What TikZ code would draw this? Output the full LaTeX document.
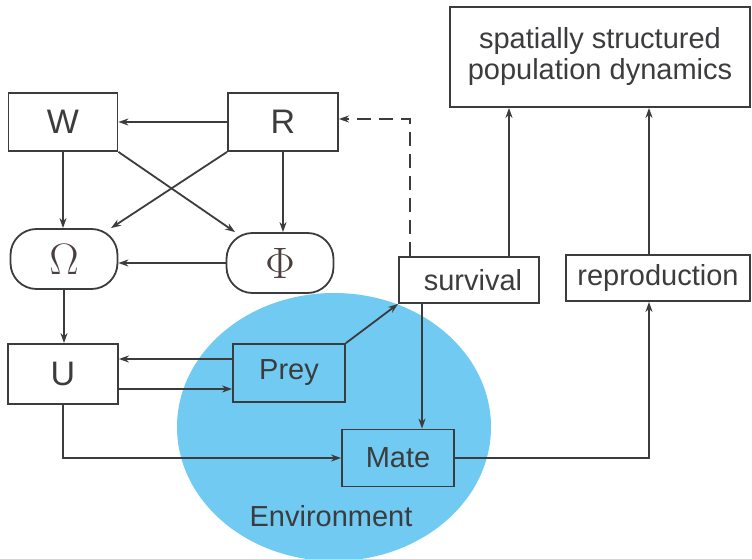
\RequirePackage{fix-cm}
\documentclass[tikz,border=0pt]{standalone}
\usepackage{fontspec}
\setmainfont{Liberation Sans}
\usetikzlibrary{arrows.meta,positioning}
\definecolor{envblue}{RGB}{112,202,241}
\definecolor{linegray}{RGB}{60,60,62}
\definecolor{greekbrown}{RGB}{75,62,62}

\begin{document}
\begin{tikzpicture}[x=1pt,y=-1pt,
  box/.style={draw=linegray, line width=1.8pt, rectangle, inner sep=0pt, text=linegray, font=\fontsize{29}{31}\selectfont},
  big/.style={box, font=\fontsize{34}{36}\selectfont},
  pill/.style={box, rounded corners=26pt, font=\fontsize{44}{46}\selectfont, text=greekbrown},
  arr/.style={-{Stealth[length=10pt,width=7pt]}, line width=1.8pt, draw=linegray}
]
\useasboundingbox (0,0) rectangle (752,559);
\fill[envblue] (334,427) ellipse [x radius=157, y radius=134];

\node[box, minimum width=300, minimum height=100, align=center] (pop) at (600,57) {spatially structured\\population dynamics};
\node[big, minimum width=109, minimum height=58] (w) at (63,122) {W};
\node[big, minimum width=110, minimum height=58] (r) at (283,122) {R};
\node[pill, minimum width=107, minimum height=60] (om) at (64,259) {$\Omega$};
\node[pill, minimum width=107, minimum height=60] (ph) at (280,263) {$\Phi$};
\node[big, minimum width=110, minimum height=60] (u) at (63,374) {U};
\node[box, minimum width=112, minimum height=58] (prey) at (289,373) {Prey};
\node[box, minimum width=112, minimum height=57] (mate) at (398,458) {Mate};
\node[box, minimum width=140, minimum height=46] (surv) at (469,280) {\hspace{8pt}survival};
\node[box, minimum width=184, minimum height=46] (repr) at (658,278) {reproduction};
\node[font=\fontsize{29}{31}\selectfont, text=linegray] (env) at (331,516) {Environment};

\draw[arr] (r) -- (w);
\draw[arr] (w) -- (w |- om.north);
\draw[arr] (w.south east) -- (ph);
\draw[arr] (r.south west) -- (om);
\draw[arr] (r) -- (r |- ph.north);
\draw[arr] (ph.west) -- (ph.west -| om.east);
\draw[arr] (om) -- (om |- u.north);
\draw[arr] ([yshift=14pt]prey.west) -- ([yshift=14pt]prey.west -| u.east);
\draw[arr] ([yshift=-15pt]u.east) -- ([yshift=-15pt]u.east -| prey.west);
\draw[arr] (u.south) |- (mate.west);
\draw[arr] (prey.north east) -- (surv.south west);
\draw[arr] ([xshift=-47pt]surv.south) -- ([xshift=-47pt]surv.south |- mate.north);
\draw[arr, dash pattern=on 14pt off 8pt] ([xshift=-59pt]surv.north) |- ([yshift=3pt]r.east);
\draw[arr] ([xshift=40pt]surv.north) -- ([xshift=40pt]surv.north |- pop.south);
\draw[arr] ([xshift=-9pt]repr.north) -- ([xshift=-9pt]repr.north |- pop.south);
\draw[arr] (mate.east) -| ([xshift=-9pt]repr.south);
\end{tikzpicture}
\end{document}
